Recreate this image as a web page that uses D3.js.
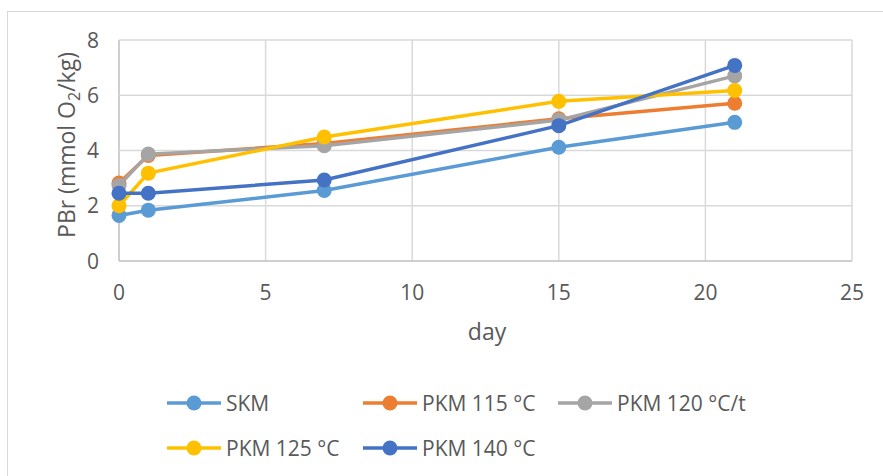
<!DOCTYPE html>
<html>
<head>
<meta charset="utf-8">
<script src="https://cdn.jsdelivr.net/npm/d3@7"></script>
<style>
body { margin: 0; background: #fff; }
text { font-family: "Open Sans", sans-serif; fill: #595959; }
</style>
</head>
<body>
<script>
var width = 883,
	height = 476;

var days = [0, 1, 7, 15, 21];
var seriesNames = ["SKM", "PKM 115 °C", "PKM 120 °C/t", "PKM 125 °C", "PKM 140 °C"];
var skm = [1.65, 1.84, 2.55, 4.12, 5.02];
var pkm115 = [2.82, 3.82, 4.25, 5.15, 5.71];
var pkm120 = [2.73, 3.87, 4.17, 5.1, 6.7];
var pkm125 = [2.0, 3.18, 4.49, 5.78, 6.17];
var pkm140 = [2.45, 2.45, 2.93, 4.9, 7.08];
var colors = ["#5B9BD5", "#ED7D31", "#A5A5A5", "#FFC000", "#4472C4"];
var xTicks = [0, 5, 10, 15, 20, 25];
var yTicks = [0, 2, 4, 6, 8];

var allSeries = [skm, pkm115, pkm120, pkm125, pkm140];

var svg = d3.select("body").append("svg").attr("width", width).attr("height", height)

// chart frame
svg.append("rect").attr("x", 7.5).attr("y", 11.5).attr("width", 900).attr("height", 500)
	.style("fill", "none").style("stroke", "#d9d9d9").style("stroke-width", 1)

var X = d3.scaleLinear().domain([0, 25]).range([119, 852]);
var Y = d3.scaleLinear().domain([0, 8]).range([261, 40]);

// grid
svg.selectAll(".vgrid").data(xTicks).enter().append("line").attr("class", "vgrid")
	.attr("x1", function(d) { return X(d) }).attr("x2", function(d) { return X(d) })
	.attr("y1", Y(0)).attr("y2", Y(8))
	.style("stroke", function(d) { return d == 0 ? "#bfbfbf" : "#d9d9d9" }).style("stroke-width", 1.5)

svg.selectAll(".hgrid").data(yTicks).enter().append("line").attr("class", "hgrid")
	.attr("x1", X(0)).attr("x2", X(25))
	.attr("y1", function(d) { return Y(d) }).attr("y2", function(d) { return Y(d) })
	.style("stroke", function(d) { return d == 0 ? "#bfbfbf" : "#d9d9d9" }).style("stroke-width", 1.5)

// tick labels
svg.selectAll(".ylab").data(yTicks).enter().append("text").attr("class", "ylab")
	.attr("x", 99).attr("y", function(d) { return Y(d) + 7.5 })
	.attr("text-anchor", "end").style("font-size", "21px")
	.text(function(d) { return d })

svg.selectAll(".xlab").data(xTicks).enter().append("text").attr("class", "xlab")
	.attr("x", function(d) { return X(d) }).attr("y", 300)
	.attr("text-anchor", "middle").style("font-size", "21px")
	.text(function(d) { return d })

// axis titles
svg.append("text").attr("x", 487).attr("y", 340).attr("text-anchor", "middle")
	.style("font-size", "23px").text("day")

var yt = svg.append("text").attr("transform", "translate(75,145) rotate(-90)")
	.attr("text-anchor", "middle").style("font-size", "23px")
yt.append("tspan").text("PBr (mmol O")
yt.append("tspan").attr("dy", 5).style("font-size", "16px").text("2")
yt.append("tspan").attr("dy", -5).text("/kg)")

// lines and markers
var line = d3.line()
	.x(function(d, i) { return X(days[i]) })
	.y(function(d) { return Y(d) })

allSeries.forEach(function(s, k) {
	svg.append("path").datum(s).attr("d", line)
		.style("fill", "none").style("stroke", colors[k]).style("stroke-width", 3.5)
	svg.selectAll(".dot" + k).data(s).enter().append("circle").attr("class", "dot" + k)
		.attr("cx", function(d, i) { return X(days[i]) })
		.attr("cy", function(d) { return Y(d) })
		.attr("r", 7.5)
		.style("fill", colors[k])
})

// legend
var legPos = [[167, 403], [363, 403], [558, 403], [167, 448], [363, 448]];
var leg = svg.selectAll(".leg").data(seriesNames).enter().append("g").attr("class", "leg")
	.attr("transform", function(d, i) { return "translate(" + legPos[i][0] + "," + legPos[i][1] + ")" })
leg.append("line").attr("x1", 0).attr("x2", 54).attr("y1", 0).attr("y2", 0)
	.style("stroke", function(d, i) { return colors[i] }).style("stroke-width", 3.5)
leg.append("circle").attr("cx", 27).attr("cy", 0).attr("r", 7.5)
	.style("fill", function(d, i) { return colors[i] })
leg.append("text").attr("x", 59).attr("y", 7.5).style("font-size", "21px")
	.text(function(d) { return d })
</script>
</body>
</html>
